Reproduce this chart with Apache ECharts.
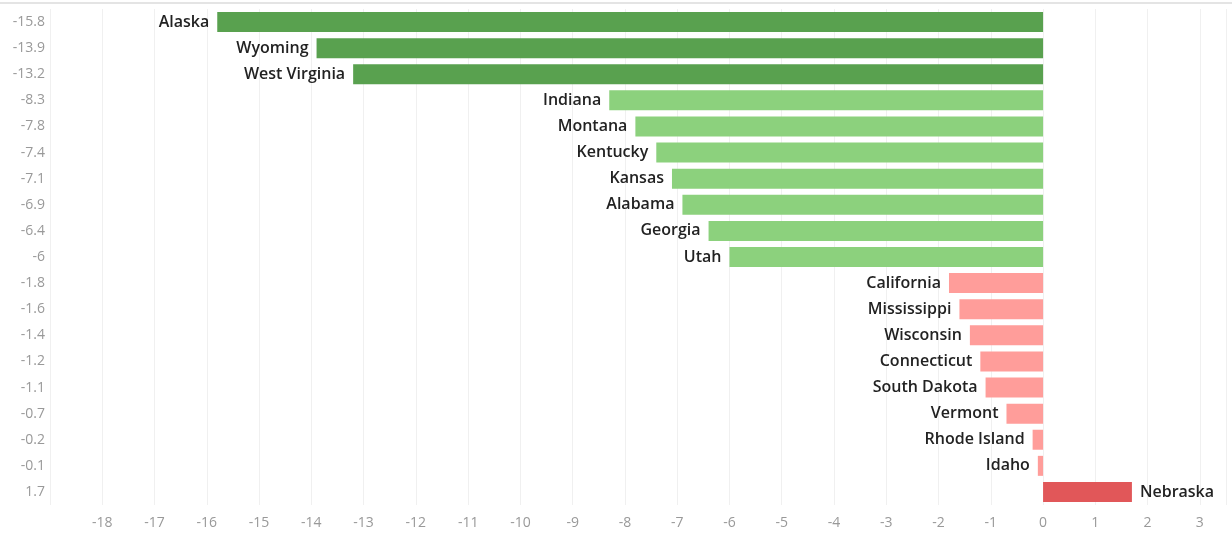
<!DOCTYPE html>
<html>
<head>
<meta charset="utf-8">
<script src="https://cdn.jsdelivr.net/npm/echarts@6/dist/echarts.min.js"></script>
<style>
  html, body { margin: 0; padding: 0; background: #fff; }
  #chart { width: 1232px; height: 533px; }
</style>
</head>
<body>
<div id="chart"></div>
<script>
// states, top to bottom
const states = [
  "Alaska", "Wyoming", "West Virginia", "Indiana", "Montana", "Kentucky",
  "Kansas", "Alabama", "Georgia", "Utah", "California", "Mississippi",
  "Wisconsin", "Connecticut", "South Dakota", "Vermont", "Rhode Island",
  "Idaho", "Nebraska"
];
const values = [
  -15.8, -13.9, -13.2, -8.3, -7.8, -7.4, -7.1, -6.9, -6.4, -6,
  -1.8, -1.6, -1.4, -1.2, -1.1, -0.7, -0.2, -0.1, 1.7
];
// colour group per bar
const groups = [
  "big", "big", "big", "mid", "mid", "mid", "mid", "mid", "mid", "mid",
  "low", "low", "low", "low", "low", "low", "low", "low", "up"
];
const groupColors = { big: "#59a14f", mid: "#8cd17d", low: "#ff9d9a", up: "#e15759" };

const chart = echarts.init(document.getElementById("chart"));

const font = "'Open Sans', 'Noto Sans', sans-serif";

chart.setOption({
  animation: false,
  textStyle: { fontFamily: font },
  grid: { left: 50, right: 6, top: 9, height: 496, containLabel: false },
  graphic: [{
    type: "line",
    shape: { x1: 0, y1: 3, x2: 1232, y2: 3 },
    style: { stroke: "#e4e4e4", lineWidth: 2 }
  }],
  xAxis: {
    type: "value",
    min: -19,
    max: 3.5,
    interval: 1,
    axisLine: { show: false },
    axisTick: { show: false },
    axisLabel: {
      color: "#999",
      fontSize: 14,
      margin: 11,
      formatter: v => (v < -18 || v > 3 ? "" : String(v))
    },
    splitLine: { show: true, lineStyle: { color: "#f0f0f0", width: 1 } }
  },
  yAxis: {
    type: "category",
    inverse: true,
    data: states,
    axisLine: { show: false },
    axisTick: { show: false },
    axisLabel: {
      color: "#999",
      fontSize: 14,
      margin: 5,
      formatter: (name, idx) => String(values[idx])
    }
  },
  series: [{
    type: "bar",
    barWidth: 20,
    data: values.map((v, i) => ({
      value: v,
      itemStyle: { color: groupColors[groups[i]] },
      label: {
        show: true,
        position: v < 0 ? "left" : "right",
        distance: 8,
        formatter: "{b}",
        color: "#222",
        fontSize: 16,
        fontWeight: 600,
        fontFamily: font
      }
    }))
  }]
});
</script>
</body>
</html>
